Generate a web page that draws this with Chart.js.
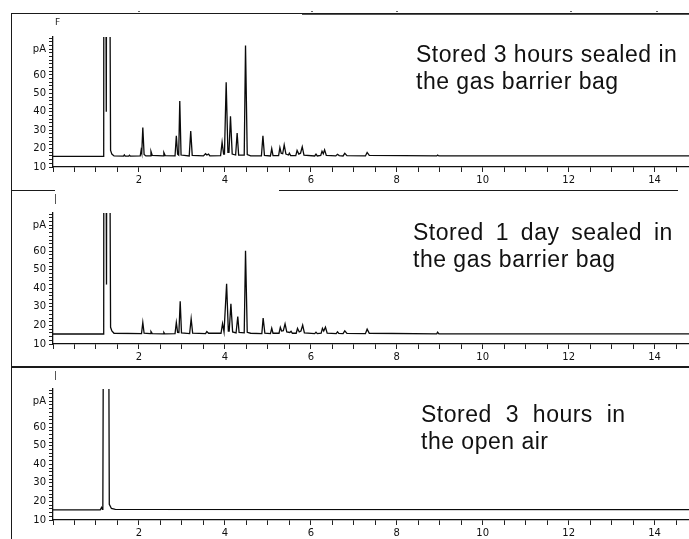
<!DOCTYPE html>
<html>
<head>
<meta charset="utf-8">
<script src="https://cdn.jsdelivr.net/npm/chart.js@4.4.1/dist/chart.umd.min.js"></script>
<style>
  html, body { margin: 0; padding: 0; background: #fff; }
  #wrap { position: relative; width: 689px; height: 539px; overflow: hidden; background: #fff; }
  #wrap canvas { position: absolute; left: 0; }
  .rule { position: absolute; background: #1a1a1a; }
  .dash { position: absolute; top: 11px; width: 2px; height: 1px; background: #666; }
  .note { position: absolute; font-family: 'Liberation Sans', Arial, sans-serif; font-size: 23px;
          color: #111; white-space: pre; line-height: 27px; letter-spacing: 0.5px; }
  .tag { position: absolute; font-family: 'DejaVu Sans', sans-serif; font-size: 9px; color: #222; }
</style>
</head>
<body>
<div id="wrap">
  <canvas id="c1" width="689" height="190" style="top:0;width:689px;height:190px"></canvas>
  <canvas id="c2" width="689" height="177" style="top:190px;width:689px;height:177px"></canvas>
  <canvas id="c3" width="689" height="172" style="top:367px;width:689px;height:172px"></canvas>

  <div class="rule" style="left:11px;top:13px;width:678px;height:1.4px"></div>
  <div class="rule" style="left:302px;top:14px;width:387px;height:1px;background:#555"></div>
  <div class="rule" style="left:10.5px;top:13px;width:1.3px;height:526px"></div>
  <div class="rule" style="left:11px;top:190px;width:44px;height:1.4px"></div>
  <div class="rule" style="left:279px;top:190px;width:399px;height:1.4px"></div>
  <div class="rule" style="left:11px;top:366px;width:678px;height:1.6px"></div>
  <div class="rule" style="left:55px;top:194px;width:1px;height:10px;background:#555"></div>
  <div class="rule" style="left:55px;top:371px;width:1px;height:9px;background:#555"></div>
  <div class="dash" style="left:138px"></div>
  <div class="dash" style="left:311px"></div>
  <div class="dash" style="left:396px"></div>
  <div class="dash" style="left:570px"></div>
  <div class="dash" style="left:656px"></div>
  <div class="tag" style="left:55px;top:17px">F</div>

  <div class="note" style="left:416px;top:41px">Stored 3 hours sealed in
the gas barrier bag</div>
  <div class="note" style="left:413px;top:219px"><span style="word-spacing:5px">Stored 1 day sealed in</span>
the gas barrier bag</div>
  <div class="note" style="left:421px;top:401px"><span style="word-spacing:7px">Stored 3 hours in</span>
the open air</div>
</div>

<script>
// Retention time (min) and detector signal (pA) for each stored sample.
const sealed3hTime = [
  0, 1.17, 1.18, 1.19, 1.24, 1.27, 1.34, 1.37, 1.42,
  1.64, 1.66, 1.68, 1.76, 1.78, 1.8,
  2.03, 2.05, 2.065, 2.09, 2.12, 2.16,
  2.26, 2.28, 2.31, 2.56, 2.58, 2.61,
  2.84, 2.87, 2.9, 2.925, 2.95, 2.98,
  3.17, 3.205, 3.24, 3.5, 3.55, 3.58, 3.62, 3.65,
  3.9, 3.935, 3.97, 3.99, 4.03, 4.07, 4.095, 4.13, 4.17, 4.25, 4.285, 4.32, 4.45, 4.48, 4.52, 4.6,
  4.85, 4.885, 4.92, 5.06, 5.09, 5.12,
  5.25, 5.28, 5.31, 5.345, 5.38, 5.42, 5.48, 5.5, 5.53,
  5.65, 5.68, 5.72, 5.76, 5.8, 5.84,
  6.09, 6.12, 6.15, 6.23, 6.26, 6.29, 6.32, 6.36,
  6.58, 6.62, 6.66, 6.75, 6.79, 6.84,
  7.27, 7.31, 7.36, 8.93, 8.95, 8.98, 14.8
];
const sealed3hSignal = [
  15.8, 15.8, 16, 420, 40, 420, 19, 17, 16,
  15.9, 16.6, 15.9, 15.9, 16.4, 15.9,
  16, 19, 17.5, 31.5, 16.8, 16,
  16, 18.5, 16.3, 16, 17.8, 16.2,
  16, 27, 17, 16.5, 45.8, 16.5,
  16, 29.5, 16.3, 16, 17.2, 16.5, 17, 16,
  16.2, 23.5, 17, 17, 56, 18, 18, 37.5, 17, 16.5, 28.5, 16.5, 16.5, 76, 16.8, 16,
  16, 27, 16.3, 16, 20, 16.2,
  16.2, 20.5, 17.5, 17.2, 22, 17, 16.5, 17.5, 16.2,
  16.2, 19, 17, 17.5, 21, 16.4,
  16, 17, 16, 16.3, 18.6, 17.2, 19.3, 16.3,
  16, 16.9, 16.2, 16, 17.4, 16.2,
  16, 17.9, 16.3, 16, 16.5, 16, 16
];

const sealed1dTime = [
  0, 1.17, 1.18, 1.19, 1.245, 1.27, 1.34, 1.37, 1.42,
  2.06, 2.09, 2.12, 2.26, 2.28, 2.31, 2.56, 2.58, 2.6,
  2.84, 2.87, 2.9, 2.93, 2.96, 2.99,
  3.18, 3.215, 3.25, 3.55, 3.58, 3.62,
  3.91, 3.945, 3.98, 4.0, 4.04, 4.08, 4.1, 4.14, 4.18, 4.26, 4.3, 4.33, 4.45, 4.48, 4.52, 4.6,
  4.86, 4.89, 4.93, 5.06, 5.09, 5.12,
  5.26, 5.29, 5.32, 5.36, 5.4, 5.44, 5.51, 5.54, 5.57,
  5.66, 5.69, 5.73, 5.77, 5.81, 5.85,
  6.09, 6.12, 6.15, 6.24, 6.27, 6.3, 6.34, 6.38,
  6.59, 6.62, 6.65, 6.75, 6.79, 6.84,
  7.27, 7.31, 7.36, 8.93, 8.95, 8.98, 14.8
];
const sealed1dSignal = [
  15.4, 15.4, 15.6, 420, 42, 420, 19, 17, 15.8,
  15.6, 21.6, 15.8, 15.6, 16.7, 15.6, 15.5, 16.2, 15.5,
  15.6, 21.6, 16.3, 16.2, 33, 16,
  15.6, 23.6, 15.8, 15.6, 16.7, 15.8,
  15.8, 21, 16.5, 16.5, 42.4, 17, 17, 31.7, 16.5, 16, 24.8, 16.3, 16, 60.2, 16.3, 15.8,
  15.6, 24, 15.8, 15.6, 18.5, 15.8,
  15.8, 19, 17, 17.2, 20.9, 16.5, 16.2, 16.9, 15.8,
  15.8, 18.4, 16.5, 17, 20.2, 16,
  15.6, 16.4, 15.6, 15.8, 18.4, 17, 19.1, 15.8,
  15.6, 16.6, 15.7, 15.6, 17.1, 15.7,
  15.6, 18, 15.8, 15.5, 16.4, 15.5, 15.5
];

const openAir3hTime   = [0, 1.1, 1.13, 1.15, 1.16, 1.23, 1.31, 1.36, 1.45, 14.8];
const openAir3hSignal = [15.5, 15.5, 16.8, 15.8, 16, 600, 18.5, 16.2, 15.7, 15.6];

// Axis ranges and tick labelling
const timeRange   = [0, 14.8];
const signalRange = [10, 80.6];
const timeLabels  = [2, 4, 6, 8, 10, 12, 14];
const signalLabels = [10, 20, 30, 40, 50, 60];
const unitTickValue = 74;
const unitLabel = 'pA';

const tickFont = { family: "'DejaVu Sans', sans-serif", size: 10 };

function pairUp(times, values) {
  return times.map((t, i) => ({ x: t, y: values[i] }));
}

function drawPanel(id, times, values, padTop, axisHeight) {
  new Chart(document.getElementById(id), {
    type: 'scatter',
    data: {
      datasets: [{
        data: pairUp(times, values),
        showLine: true,
        borderColor: '#0a0a0a',
        borderWidth: 1.3,
        pointRadius: 0,
        tension: 0,
        fill: false
      }]
    },
    options: {
      responsive: false,
      animation: false,
      events: [],
      layout: { padding: { top: padTop, left: 0, right: 0, bottom: 0 } },
      plugins: { legend: { display: false }, tooltip: { enabled: false } },
      scales: {
        x: {
          type: 'linear',
          min: timeRange[0], max: timeRange[1],
          border: { color: '#111', width: 1.3 },
          grid: { drawOnChartArea: false, drawTicks: true, tickLength: 5, color: '#222', tickWidth: 1 },
          ticks: {
            stepSize: 0.5, includeBounds: false, autoSkip: false, maxRotation: 0, minRotation: 0,
            padding: 2, color: '#111', font: tickFont,
            callback: v => timeLabels.includes(v) ? String(v) : ''
          },
          afterFit: s => { s.height = axisHeight; }
        },
        y: {
          type: 'linear',
          min: signalRange[0], max: signalRange[1],
          border: { color: '#111', width: 1.3 },
          grid: { drawOnChartArea: false, drawTicks: true, tickLength: 4, color: '#222', tickWidth: 1 },
          ticks: {
            stepSize: 2, includeBounds: false, autoSkip: false,
            padding: 3, color: '#111', font: tickFont,
            callback: v => v === unitTickValue ? unitLabel : (signalLabels.includes(v) ? String(v) : '')
          },
          afterFit: s => { s.width = 53; }
        }
      }
    }
  });
}

drawPanel('c1', sealed3hTime, sealed3hSignal, 37, 23);
drawPanel('c2', sealed1dTime, sealed1dSignal, 23, 23);
drawPanel('c3', openAir3hTime, openAir3hSignal, 22, 19);
</script>
</body>
</html>
